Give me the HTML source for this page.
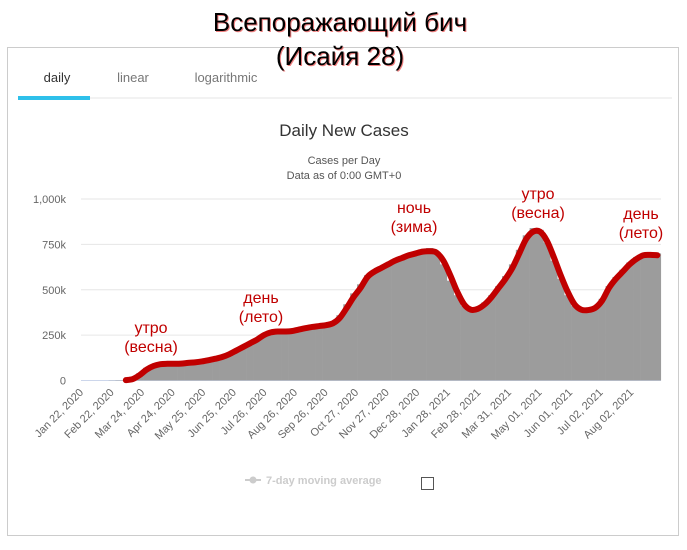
<!DOCTYPE html>
<html><head><meta charset="utf-8">
<style>
body{margin:0;background:#fff;width:687px;height:545px;overflow:hidden;font-family:"Liberation Sans",sans-serif;}
</style></head>
<body>
<svg width="687" height="545" xmlns="http://www.w3.org/2000/svg">
  <rect x="7.5" y="47.5" width="671" height="488" fill="#fff" stroke="#ccc"/>
  <text x="57" y="82" font-size="13" fill="#333" text-anchor="middle">daily</text>
  <text x="133" y="82" font-size="13" fill="#777" text-anchor="middle">linear</text>
  <text x="226" y="82" font-size="13" fill="#777" text-anchor="middle">logarithmic</text>
  <line x1="18" y1="98" x2="672" y2="98" stroke="#eee" stroke-width="1.5"/>
  <rect x="18" y="96" width="72" height="4" fill="#2ec0ea"/>
  <text x="344" y="136" font-size="17" fill="#333" text-anchor="middle">Daily New Cases</text>
  <text x="344" y="164" font-size="11" fill="#555" text-anchor="middle">Cases per Day</text>
  <text x="344" y="179" font-size="11" fill="#555" text-anchor="middle">Data as of 0:00 GMT+0</text>
  <g id="grid"></g>
  <g id="bars"></g>
  <g id="xlabels"></g>
  <path id="avg" fill="none" stroke="#c00000" stroke-width="6" stroke-linejoin="round" stroke-linecap="round"/>
  <g font-size="16" fill="#c00000" text-anchor="middle">
    <text x="151" y="333">утро</text>
    <text x="151" y="352">(весна)</text>
    <text x="261" y="303">день</text>
    <text x="261" y="322">(лето)</text>
    <text x="414" y="213">ночь</text>
    <text x="414" y="232">(зима)</text>
    <text x="538" y="199">утро</text>
    <text x="538" y="218">(весна)</text>
    <text x="641" y="219">день</text>
    <text x="641" y="238">(лето)</text>
  </g>
  <g>
    <line x1="245" y1="480" x2="261" y2="480" stroke="#ccc" stroke-width="2"/>
    <circle cx="253" cy="480" r="3.5" fill="#ccc"/>
    <text x="266" y="484" font-size="11" font-weight="bold" fill="#ccc">7-day moving average</text>
  </g>
  <rect x="421.5" y="477.5" width="12" height="12" fill="#fff" stroke="#555"/>
  <g font-size="26" text-anchor="middle">
    <text x="341" y="32" fill="#f08080">Всепоражающий бич</text>
    <text x="340" y="31" fill="#000">Всепоражающий бич</text>
    <text x="341" y="66" fill="#f08080">(Исайя 28)</text>
    <text x="340" y="65" fill="#000">(Исайя 28)</text>
  </g>
</svg>
<script>
// weekly 7-day average (k), week 0 = Jan 22, 2020
const avgValues=[0,0,0,0,2,1,2,8,30,60,80,90,92,92,93,97,100,105,112,120,130,145,165,185,205,225,250,265,270,270,272,280,288,295,300,305,315,345,400,460,510,570,600,620,640,660,675,690,700,710,712,705,660,580,490,420,390,395,420,460,510,560,620,700,780,820,820,770,680,580,490,420,390,388,400,440,510,560,600,640,670,690,692,690];
// weekly daily-case bars (k)
const caseValues=[0,0,0,0,1,2,3,12,40,70,85,90,88,90,92,95,100,103,110,118,128,142,160,180,200,222,245,262,268,268,270,278,285,292,298,303,320,360,420,480,530,580,605,625,645,665,680,695,705,720,730,700,640,550,470,410,385,400,430,470,520,575,640,720,800,840,830,760,660,560,470,410,380,385,405,450,520,570,610,650,680,700,705,700];
const yTicks=[0,250,500,750,1000];
const yTickLabels=["0","250k","500k","750k","1,000k"];
const xTickDays=[0,31,62,93,124,155,186,217,248,279,310,341,372,403,434,465,496,527,558];
const xTickLabels=["Jan 22, 2020","Feb 22, 2020","Mar 24, 2020","Apr 24, 2020","May 25, 2020","Jun 25, 2020","Jul 26, 2020","Aug 26, 2020","Sep 26, 2020","Oct 27, 2020","Nov 27, 2020","Dec 28, 2020","Jan 28, 2021","Feb 28, 2021","Mar 31, 2021","May 01, 2021","Jun 01, 2021","Jul 02, 2021","Aug 02, 2021"];

const NS="http://www.w3.org/2000/svg";
const X0=81,DAY=0.986,Y0=380.5,YK=181.5/1000;
const xs=d=>X0+d*DAY;
const ys=v=>Y0-v*YK;
function mk(t,a){const e=document.createElementNS(NS,t);for(const k in a)e.setAttribute(k,a[k]);return e;}
const grid=document.getElementById('grid');
yTicks.forEach((v,i)=>{
  const l=mk('line',{x1:X0,x2:661,y1:ys(v),y2:ys(v),stroke:i==0?'#ccd6eb':'#e6e6e6'});
  
  
  grid.appendChild(l);
  const t=mk('text',{x:66,y:ys(v)+4,'font-size':11,fill:'#666','text-anchor':'end'});
  t.textContent=yTickLabels[i];
  
  
  grid.appendChild(t);
});
const bars=document.getElementById('bars');
caseValues.forEach((v,i)=>{
  const x=xs(i*7),w=7*DAY;
  const r=mk('rect',{x:x,y:ys(v),width:w+0.3,height:Math.max(0,Y0-ys(v)),fill:'#9c9c9c'});
  
  
  bars.appendChild(r);
});
const xl=document.getElementById('xlabels');
xTickDays.forEach((d,i)=>{
  const x=xs(d)+3,y=393;
  const t=mk('text',{x:x,y:y,'font-size':11,fill:'#666','text-anchor':'end',transform:`rotate(-45 ${x} ${y})`});
  t.textContent=xTickLabels[i];
  
  
  xl.appendChild(t);
});
let pts=[];
avgValues.forEach((v,i)=>{if(i>=6)pts.push([xs(i*7+3.5),ys(v)]);});
let dstr='M'+pts[0][0]+','+pts[0][1];
for(let i=1;i<pts.length;i++){
  const p0=pts[i-2]||pts[i-1],p1=pts[i-1],p2=pts[i],p3=pts[i+1]||p2;
  const c1=[p1[0]+(p2[0]-p0[0])/6,p1[1]+(p2[1]-p0[1])/6],c2=[p2[0]-(p3[0]-p1[0])/6,p2[1]-(p3[1]-p1[1])/6];
  dstr+=` C${c1[0]},${c1[1]} ${c2[0]},${c2[1]} ${p2[0]},${p2[1]}`;
}
document.getElementById('avg').setAttribute('d',dstr);
</script>
</body></html>
